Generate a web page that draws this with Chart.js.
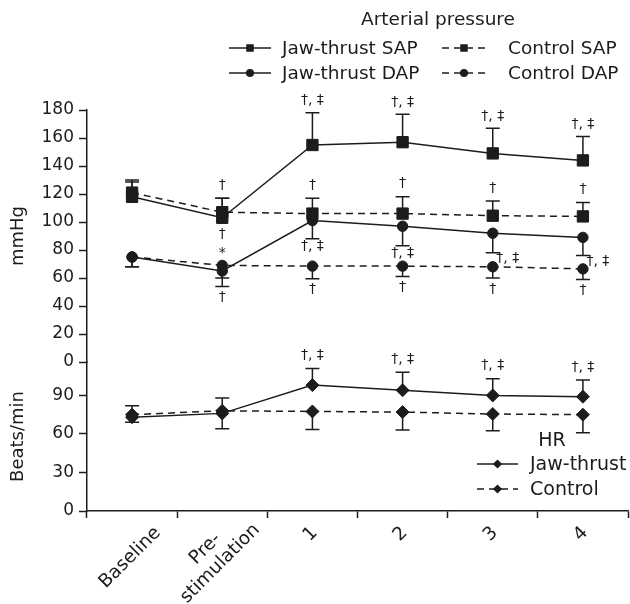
<!DOCTYPE html>
<html>
<head>
<meta charset="utf-8">
<script src="https://cdn.jsdelivr.net/npm/chart.js@4/dist/chart.umd.min.js"></script>
<style>
  body { margin: 0; background: #fff; }
  canvas { display: block; }
</style>
</head>
<body>
<canvas id="diagram" width="630" height="604"></canvas>
<script>
const categories = ["Baseline", ["Pre-", "stimulation"], "1", "2", "3", "4"];

// arterial pressure (mmHg)
const sapJawThrust = [118, 103, 155, 157, 149, 144];
const sapJawThrustErr = [10.5, 14, 23, 20, 18, 17];
const sapControl = [121, 107, 106, 106, 104.5, 104];
const sapControlErr = [9, 10, 11, 12, 10.5, 10];
const dapJawThrust = [75, 65, 101, 97, 92, 89];
const dapJawThrustErr = [7, 11, 13, 14, 14, 13];
const dapControl = [75, 69, 68.5, 68.5, 68, 66.5];
const dapControlErr = [7, 9, 9, 7.5, 8, 7.5];

// heart rate (beats/min)
const hrJawThrust = [73, 76, 98, 94, 90, 89];
const hrJawThrustErr = [9, 12, 13, 14, 13, 13];
const hrControl = [75, 78, 77.5, 77, 75.5, 75];
const hrControlErr = [6, 14, 14, 14, 13, 14];

const bpTicks = [0, 20, 40, 60, 80, 100, 120, 140, 160, 180];
const hrTicks = [0, 30, 60, 90];
const hrAxisMax = 116;

// significance marks
const sapJawThrustMarks = ["", "", "†, ‡", "†, ‡", "†, ‡", "†, ‡"];
const sapControlMarks = ["", "†", "†", "†", "†", "†"];
const sapJawThrustBelow = ["", "†", "", "", "", ""];
const dapControlStar = ["", "*", "", "", "", ""];
const dapJawThrustMarks = ["", "", "†, ‡", "†, ‡", "†, ‡", "†, ‡"];
const dapControlMarks = ["", "†", "†", "†", "†", "†"];
const hrJawThrustMarks = ["", "", "†, ‡", "†, ‡", "†, ‡", "†, ‡"];

const ink = "#1c1c1c";
const fontFam = "'DejaVu Sans', sans-serif";

function series(label, values, axis, shape, radius, keyRadius, dashed) {
  return {
    label: label,
    data: values,
    yAxisID: axis,
    keyRadius: keyRadius,
    borderColor: ink,
    backgroundColor: ink,
    borderWidth: 1.5,
    borderDash: dashed ? [7, 5] : [],
    pointStyle: shape,
    pointRadius: radius,
    pointHoverRadius: radius,
    pointBackgroundColor: ink,
    pointBorderColor: ink,
    pointBorderWidth: 1,
    tension: 0
  };
}

const datasets = [
  series("Jaw-thrust SAP", sapJawThrust, "yBP", "rect", 8, 5.3, false),
  series("Control SAP", sapControl, "yBP", "rect", 8, 5.3, true),
  series("Jaw-thrust DAP", dapJawThrust, "yBP", "circle", 5.2, 4, false),
  series("Control DAP", dapControl, "yBP", "circle", 5.2, 4, true),
  series("Jaw-thrust", hrJawThrust, "yHR", "rectRot", 6.5, 4.6, false),
  series("Control", hrControl, "yHR", "rectRot", 6.5, 4.6, true)
];
const errUp = [sapJawThrustErr, sapControlErr, null, null, hrJawThrustErr, null];
const errDown = [null, null, dapJawThrustErr, dapControlErr, null, hrControlErr];

const notes = [
  { sets: [0], marks: sapJawThrustMarks, at: "top", dy: -12 },
  { sets: [1], marks: sapControlMarks, at: "top", dy: -13 },
  { sets: [0], marks: sapJawThrustBelow, at: "point", dy: 17 },
  { sets: [3], marks: dapControlStar, at: "point", dy: -12 },
  { sets: [2], marks: dapJawThrustMarks, at: "bottom", dy: 8, dx: [0, 0, 0, 0, 15, 15], dyx: [0, 0, 0, 0, -2, -2] },
  { sets: [2, 3], marks: dapControlMarks, at: "bottom", dy: 11 },
  { sets: [4], marks: hrJawThrustMarks, at: "top", dy: -13 }
];

function drawMarker(ctx, shape, r, x, y) {
  ctx.beginPath();
  if (shape === "rect") {
    const s = r * Math.SQRT1_2;
    ctx.rect(x - s, y - s, 2 * s, 2 * s);
  } else if (shape === "rectRot") {
    ctx.moveTo(x, y - r); ctx.lineTo(x + r, y); ctx.lineTo(x, y + r); ctx.lineTo(x - r, y);
    ctx.closePath();
  } else {
    ctx.arc(x, y, r, 0, Math.PI * 2);
  }
  ctx.fill();
}

const errorBars = {
  id: "errorBars",
  beforeDatasetsDraw(chart) {
    const ctx = chart.ctx;
    ctx.save();
    ctx.strokeStyle = ink;
    ctx.lineWidth = 1.5;
    chart.data.datasets.forEach((ds, i) => {
      const meta = chart.getDatasetMeta(i);
      const scale = chart.scales[ds.yAxisID];
      [[errUp[i], 1], [errDown[i], -1]].forEach(([errs, dir]) => {
        if (!errs) return;
        ds.data.forEach((v, j) => {
          if (!errs[j]) return;
          const x = meta.data[j].x;
          const y0 = scale.getPixelForValue(v);
          const y1 = scale.getPixelForValue(v + dir * errs[j]);
          ctx.beginPath();
          ctx.moveTo(x, y0); ctx.lineTo(x, y1);
          ctx.moveTo(x - 7, y1); ctx.lineTo(x + 7, y1);
          ctx.stroke();
        });
      });
    });
    ctx.restore();
  }
};

const marksPlugin = {
  id: "marks",
  afterDatasetsDraw(chart) {
    const ctx = chart.ctx;
    ctx.save();
    ctx.fillStyle = ink;
    ctx.font = "14px " + fontFam;
    ctx.textAlign = "center";
    ctx.textBaseline = "middle";
    notes.forEach(n => {
      n.marks.forEach((m, j) => {
        if (!m) return;
        let y = null;
        let x = 0;
        n.sets.forEach(i => {
          const ds = chart.data.datasets[i];
          const scale = chart.scales[ds.yAxisID];
          x = chart.getDatasetMeta(i).data[j].x;
          let v = ds.data[j];
          if (n.at === "top" && errUp[i]) v += errUp[i][j];
          if (n.at === "bottom" && errDown[i]) v -= errDown[i][j];
          const p = scale.getPixelForValue(v);
          if (y === null || (n.at === "bottom" ? p > y : p < y)) y = p;
        });
        x += n.dx ? n.dx[j] : 0;
        y += n.dy + (n.dyx ? n.dyx[j] : 0);
        ctx.fillText(m, x, y);
      });
    });
    ctx.restore();
  }
};

// category labels: rotated 45°, each line centred, last line centred on the category
const xLabels = {
  id: "xLabels",
  afterDraw(chart) {
    const scale = chart.scales.x;
    const ctx = chart.ctx;
    ctx.save();
    ctx.fillStyle = ink;
    ctx.font = "18.5px " + fontFam;
    ctx.textAlign = "center";
    ctx.textBaseline = "middle";
    const lineH = 21;
    categories.forEach((lab, i) => {
      const lines = Array.isArray(lab) ? lab : [lab];
      const w = Math.max(...lines.map(l => ctx.measureText(l).width));
      const ax = scale.getPixelForTick(i) + w / (2 * Math.SQRT2) - 2;
      const ay = scale.top + 19 - 3 * (lines.length - 1);
      ctx.save();
      ctx.translate(ax, ay);
      ctx.rotate(-Math.PI / 4);
      lines.forEach((l, k) => ctx.fillText(l, -w / 2, (k - lines.length + 1) * lineH));
      ctx.restore();
    });
    ctx.restore();
  }
};

const legendBoxes = [
  { title: "Arterial pressure", titleX: 438, titleY: 20, font: 18.5,
    cols: [229, 442], keyLen: [42, 44], textX: [282, 508], rows: [48, 73], items: [[0, 1], [2, 3]] },
  { title: "HR", titleX: 552, titleY: 441, font: 19,
    cols: [477], keyLen: [41], textX: [530], rows: [464, 489], items: [[4], [5]] }
];

const legendPlugin = {
  id: "panelLegends",
  afterDraw(chart) {
    const ctx = chart.ctx;
    ctx.save();
    ctx.fillStyle = ink;
    ctx.strokeStyle = ink;
    ctx.textBaseline = "middle";
    legendBoxes.forEach(box => {
      ctx.font = box.font + "px " + fontFam;
      ctx.textAlign = "center";
      ctx.fillText(box.title, box.titleX, box.titleY);
      ctx.textAlign = "left";
      box.items.forEach((row, r) => {
        row.forEach((i, c) => {
          const ds = chart.data.datasets[i];
          const x = box.cols[c];
          const len = box.keyLen[c];
          const y = box.rows[r];
          ctx.lineWidth = 1.5;
          ctx.setLineDash(ds.borderDash);
          ctx.beginPath();
          ctx.moveTo(x, y); ctx.lineTo(x + len, y);
          ctx.stroke();
          ctx.setLineDash([]);
          drawMarker(ctx, ds.pointStyle, ds.keyRadius, x + len / 2, y);
          ctx.fillText(ds.label, box.textX[c], y + 1);
        });
      });
    });
    ctx.restore();
  }
};

const tickFont = { family: fontFam, size: 17 };
const titleFont = { family: fontFam, size: 18 };

function leftFit(scale) {
  scale.width = 87;
  scale.paddingTop = 0;
  scale.paddingBottom = 0;
}

new Chart(document.getElementById("diagram"), {
  type: "line",
  data: { labels: categories, datasets: datasets },
  options: {
    responsive: false,
    animation: false,
    layout: { autoPadding: false, padding: { top: 110, right: 2, left: 0, bottom: 0 } },
    plugins: { legend: { display: false }, tooltip: { enabled: false } },
    scales: {
      x: {
        type: "category",
        offset: true,
        grid: { offset: true, drawOnChartArea: false, tickLength: 7, color: ink, tickWidth: 1.5 },
        border: { color: ink, width: 1.5 },
        ticks: { display: false, autoSkip: false },
        afterFit(scale) { scale.height = 93; scale.paddingLeft = 0; scale.paddingRight = 0; }
      },
      yHR: {
        type: "linear",
        position: "left",
        stack: "panels",
        stackWeight: 149,
        min: 0,
        max: hrAxisMax,
        afterBuildTicks(scale) { scale.ticks = hrTicks.map(v => ({ value: v })); },
        grid: { drawOnChartArea: false, tickLength: 8, color: ink, tickWidth: 1.5 },
        border: { color: ink, width: 1.5 },
        ticks: { color: ink, font: tickFont, padding: 5, autoSkip: false },
        title: { display: true, text: "Beats/min", color: ink, font: titleFont, padding: { top: 8, bottom: 0 } },
        afterFit: leftFit
      },
      yBP: {
        type: "linear",
        position: "left",
        stack: "panels",
        stackWeight: 252,
        min: 0,
        max: 180,
        afterBuildTicks(scale) { scale.ticks = bpTicks.map(v => ({ value: v })); },
        grid: { drawOnChartArea: false, tickLength: 8, color: ink, tickWidth: 1.5 },
        border: { color: ink, width: 1.5 },
        ticks: { color: ink, font: tickFont, padding: 5, autoSkip: false },
        title: { display: true, text: "mmHg", color: ink, font: titleFont, padding: { top: 8, bottom: 0 } },
        afterFit: leftFit
      }
    }
  },
  plugins: [errorBars, marksPlugin, xLabels, legendPlugin]
});
</script>
</body>
</html>
